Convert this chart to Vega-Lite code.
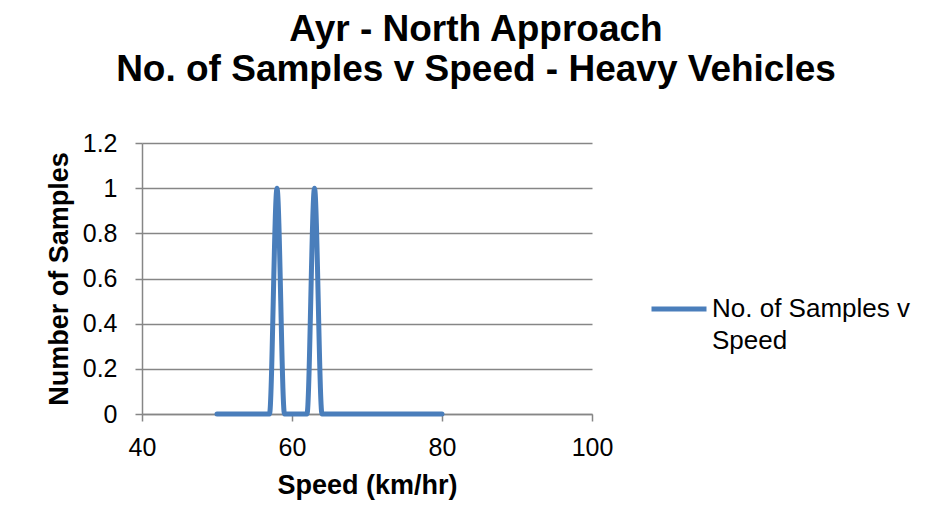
{
  "$schema": "https://vega.github.io/schema/vega-lite/v6.json",
  "autosize": {"type": "none"},
  "width": 450,
  "height": 271,
  "padding": {"left": 142, "top": 143, "right": 341, "bottom": 117},
  "background": "white",
  "title": {
    "text": ["Ayr - North Approach", "No. of Samples v Speed - Heavy Vehicles"],
    "font": "Liberation Sans",
    "fontSize": 37,
    "fontWeight": "bold",
    "color": "black",
    "anchor": "middle",
    "lineHeight": 40,
    "dx": 109,
    "offset": 42
  },
  "data": {
    "values": [
      {"speed": 50, "samples": 0, "series": "No. of Samples v Speed"},
      {"speed": 51, "samples": 0, "series": "No. of Samples v Speed"},
      {"speed": 52, "samples": 0, "series": "No. of Samples v Speed"},
      {"speed": 53, "samples": 0, "series": "No. of Samples v Speed"},
      {"speed": 54, "samples": 0, "series": "No. of Samples v Speed"},
      {"speed": 55, "samples": 0, "series": "No. of Samples v Speed"},
      {"speed": 56, "samples": 0, "series": "No. of Samples v Speed"},
      {"speed": 57, "samples": 0, "series": "No. of Samples v Speed"},
      {"speed": 58, "samples": 1, "series": "No. of Samples v Speed"},
      {"speed": 59, "samples": 0, "series": "No. of Samples v Speed"},
      {"speed": 60, "samples": 0, "series": "No. of Samples v Speed"},
      {"speed": 61, "samples": 0, "series": "No. of Samples v Speed"},
      {"speed": 62, "samples": 0, "series": "No. of Samples v Speed"},
      {"speed": 63, "samples": 1, "series": "No. of Samples v Speed"},
      {"speed": 64, "samples": 0, "series": "No. of Samples v Speed"},
      {"speed": 65, "samples": 0, "series": "No. of Samples v Speed"},
      {"speed": 66, "samples": 0, "series": "No. of Samples v Speed"},
      {"speed": 67, "samples": 0, "series": "No. of Samples v Speed"},
      {"speed": 68, "samples": 0, "series": "No. of Samples v Speed"},
      {"speed": 69, "samples": 0, "series": "No. of Samples v Speed"},
      {"speed": 70, "samples": 0, "series": "No. of Samples v Speed"},
      {"speed": 71, "samples": 0, "series": "No. of Samples v Speed"},
      {"speed": 72, "samples": 0, "series": "No. of Samples v Speed"},
      {"speed": 73, "samples": 0, "series": "No. of Samples v Speed"},
      {"speed": 74, "samples": 0, "series": "No. of Samples v Speed"},
      {"speed": 75, "samples": 0, "series": "No. of Samples v Speed"},
      {"speed": 76, "samples": 0, "series": "No. of Samples v Speed"},
      {"speed": 77, "samples": 0, "series": "No. of Samples v Speed"},
      {"speed": 78, "samples": 0, "series": "No. of Samples v Speed"},
      {"speed": 79, "samples": 0, "series": "No. of Samples v Speed"},
      {"speed": 80, "samples": 0, "series": "No. of Samples v Speed"}
    ]
  },
  "mark": {
    "type": "line",
    "interpolate": "monotone",
    "strokeWidth": 5,
    "strokeCap": "round",
    "strokeJoin": "round"
  },
  "encoding": {
    "x": {
      "field": "speed",
      "type": "quantitative",
      "scale": {"domain": [40, 100], "nice": false, "zero": false},
      "axis": {
        "title": "Speed (km/hr)",
        "values": [40, 60, 80, 100],
        "grid": false,
        "tickSize": 7,
        "labelFlush": false,
        "labelPadding": 14,
        "titlePadding": 12
      }
    },
    "y": {
      "field": "samples",
      "type": "quantitative",
      "scale": {"domain": [0, 1.2], "nice": false},
      "axis": {
        "title": "Number of Samples",
        "values": [0, 0.2, 0.4, 0.6, 0.8, 1, 1.2],
        "format": "~g",
        "grid": true,
        "tickSize": 7,
        "labelPadding": 18,
        "titlePadding": 9
      }
    },
    "color": {
      "field": "series",
      "type": "nominal",
      "scale": {"range": ["#4a7ebb"]},
      "legend": {
        "title": null,
        "orient": "none",
        "legendX": 507,
        "legendY": 136,
        "symbolType": "stroke",
        "symbolSize": 3025,
        "symbolStrokeWidth": 5,
        "labelFont": "Liberation Sans",
        "labelFontSize": 26,
        "labelColor": "black",
        "labelLimit": 400,
        "labelOffset": 3,
        "labelExpr": "['No. of Samples v', 'Speed']",
        "labelBaseline": "middle",
        "encode": {"labels": {"update": {"lineHeight": {"value": 32}}}}
      }
    }
  },
  "config": {
    "view": {"stroke": null},
    "axis": {
      "labelFont": "Liberation Sans",
      "labelFontSize": 25,
      "labelColor": "black",
      "titleFont": "Liberation Sans",
      "titleFontSize": 27,
      "titleFontWeight": "bold",
      "titleColor": "black",
      "domainColor": "#868686",
      "domainWidth": 1.5,
      "tickColor": "#868686",
      "tickWidth": 1.5,
      "gridColor": "#868686",
      "gridWidth": 1.5
    }
  }
}
